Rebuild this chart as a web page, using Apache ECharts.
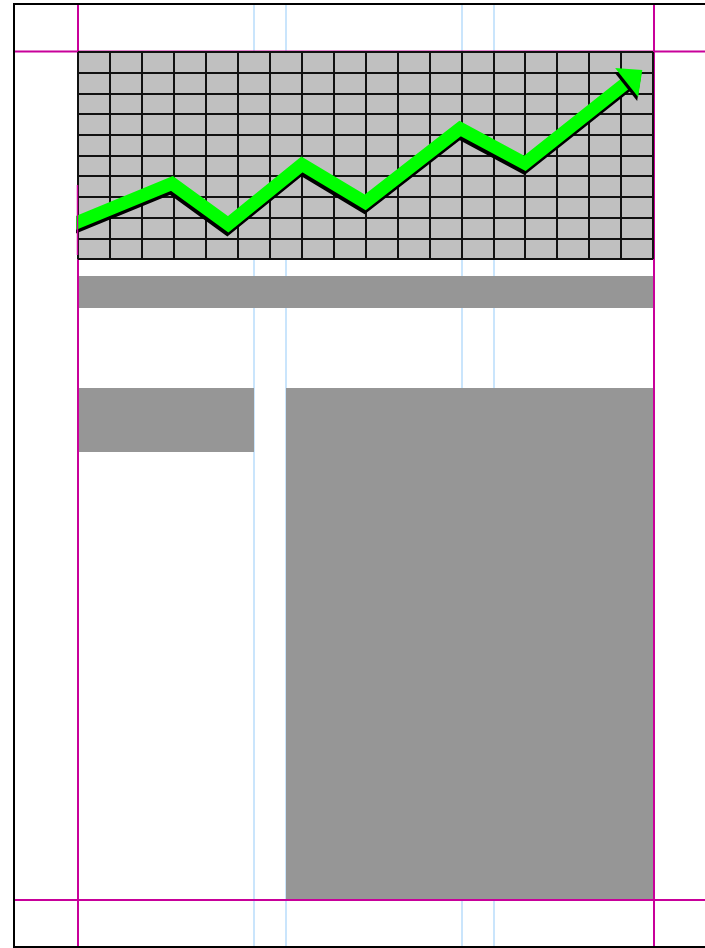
<!DOCTYPE html>
<html>
<head>
<meta charset="utf-8">
<script src="https://cdn.jsdelivr.net/npm/echarts@6/dist/echarts.min.js"></script>
<style>
html,body{margin:0;padding:0;background:#fff;}
#c{width:705px;height:948px;}
</style>
</head>
<body>
<div id="c"></div>
<script>
// Trend arrow path (grid units: 18 columns x 10 rows)
const pathX = [-0.15, 2.94, 4.70, 7.01, 8.99, 11.96, 13.99, 17.42];
const pathY = [1.69, 3.65, 1.68, 4.57, 2.74, 6.30, 4.62, 8.83];
const gridCols = 18;
const gridRows = 10;

const lineData = pathX.map((x, i) => [x, pathY[i]]);
const n = pathX.length;

const GREEN = '#00ff00';
const MAG = '#c8009a';
const BLUE = '#b8dcfb';
const BOX = '#969696';

const chart = echarts.init(document.getElementById('c'), null, {renderer: 'canvas'});

const guides = [];
// light blue vertical guides
[254, 286, 462, 494].forEach(x => guides.push({
  type: 'line', z: -30, silent: true,
  shape: {x1: x, y1: 4, x2: x, y2: 948},
  style: {stroke: BLUE, lineWidth: 1.5}
}));
// magenta margin lines
[78, 654].forEach(x => guides.push({
  type: 'line', z: -20, silent: true,
  shape: {x1: x, y1: 4, x2: x, y2: 948},
  style: {stroke: MAG, lineWidth: 2}
}));
[51.5, 900].forEach(y => guides.push({
  type: 'line', z: -20, silent: true,
  shape: {x1: 14, y1: y, x2: 705, y2: y},
  style: {stroke: MAG, lineWidth: 2}
}));
// gray placeholder boxes
[[79, 276, 574, 32], [79, 388, 175, 64], [286, 388, 367, 511]].forEach(r => guides.push({
  type: 'rect', z: -10, silent: true,
  shape: {x: r[0], y: r[1], width: r[2], height: r[3]},
  style: {fill: BOX}
}));
// page border
guides.push({
  type: 'rect', z: -5, silent: true,
  shape: {x: 14, y: 4, width: 800, height: 943},
  style: {fill: null, stroke: '#000', lineWidth: 2}
});
// keep the left margin clean where the arrow enters the chart
guides.push({
  type: 'rect', z: 50, silent: true,
  shape: {x: 16, y: 190, width: 60, height: 60},
  style: {fill: '#fff'}
});
guides.push({
  type: 'line', z: 51, silent: true,
  shape: {x1: 77.5, y1: 185, x2: 77.5, y2: 255},
  style: {stroke: MAG, lineWidth: 1.5}
});

const shadow = {shadowColor: '#000', shadowBlur: 0, shadowOffsetX: -1, shadowOffsetY: 4};

function buildOption(arrowRotate) {
  return {
    animation: false,
    backgroundColor: '#fff',
    graphic: {elements: guides},
    grid: {
      left: 78, top: 52, width: 575, height: 207,
      show: true, backgroundColor: '#c0c0c0', borderWidth: 0
    },
    xAxis: {
      type: 'value', min: 0, max: gridCols, interval: 1,
      axisLine: {show: false}, axisTick: {show: false}, axisLabel: {show: false},
      splitLine: {show: true, lineStyle: {color: '#111', width: 2}}
    },
    yAxis: {
      type: 'value', min: 0, max: gridRows, interval: 1,
      axisLine: {show: false}, axisTick: {show: false}, axisLabel: {show: false},
      splitLine: {show: true, lineStyle: {color: '#111', width: 2}}
    },
    series: [
      {
        type: 'line',
        data: lineData,
        symbol: 'none',
        z: 3,
        lineStyle: Object.assign({color: GREEN, width: 13, join: 'miter', miterLimit: 10}, shadow),
        markPoint: {
          silent: true,
          symbol: 'triangle',
          symbolSize: [37, 20],
          symbolRotate: arrowRotate,
          label: {show: false},
          itemStyle: Object.assign({color: GREEN}, shadow),
          data: [{coord: lineData[n - 1]}]
        }
      }
    ]
  };
}

chart.setOption(buildOption(0));
const p1 = chart.convertToPixel({gridIndex: 0}, lineData[n - 2]);
const p2 = chart.convertToPixel({gridIndex: 0}, lineData[n - 1]);
const ang = Math.atan2(-(p2[1] - p1[1]), p2[0] - p1[0]) * 180 / Math.PI;
chart.setOption(buildOption(ang - 90));
</script>
</body>
</html>
